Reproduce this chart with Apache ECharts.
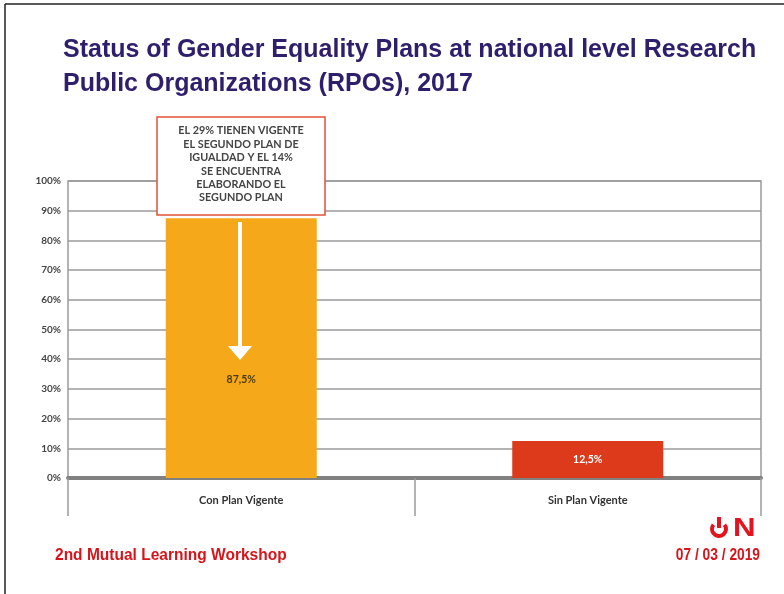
<!DOCTYPE html>
<html>
<head>
<meta charset="utf-8">
<script src="https://cdn.jsdelivr.net/npm/echarts@6/dist/echarts.min.js"></script>
<style>
html,body{margin:0;padding:0;background:#fff;}
#chart{width:784px;height:594px;}
</style>
</head>
<body>
<div id="chart"></div>
<script>
var categories = ['Con Plan Vigente', 'Sin Plan Vigente'];
var values = [87.5, 12.5];
var barColors = ['#F5A91A', '#DC3A1A'];
var labelColors = ['#4E3A12', '#FFFFFF'];
var titleLines = ['Status of Gender Equality Plans at national level Research', 'Public Organizations (RPOs), 2017'];
var noteLines = ['EL 29% TIENEN VIGENTE', 'EL SEGUNDO PLAN DE', 'IGUALDAD Y EL 14%', 'SE ENCUENTRA', 'ELABORANDO EL', 'SEGUNDO PLAN'];
var footerLeft = '2nd Mutual Learning Workshop';
var footerDate = '07 / 03 / 2019';

var chart = echarts.init(document.getElementById('chart'), null, {renderer: 'canvas'});

var noteTexts = noteLines.map(function (t, i) {
  return {
    type: 'text', z: 20,
    style: {text: t, x: 241, y: 131 + i * 13.4, textAlign: 'center', textVerticalAlign: 'middle',
      font: 'bold 10.8px Lato, "Open Sans", sans-serif', fill: '#444444'}
  };
});

var option = {
  backgroundColor: '#ffffff',
  animation: false,
  grid: {left: 68, right: 23, top: 181, bottom: 116, show: true, borderColor: '#9a9a9a', borderWidth: 1.5},
  xAxis: {
    type: 'category',
    data: categories,
    axisLine: {show: true, lineStyle: {color: '#808080', width: 4}},
    axisTick: {show: true, length: 38, lineStyle: {color: '#9a9a9a', width: 1.5}},
    axisLabel: {margin: 17, color: '#333333', fontSize: 11, fontFamily: 'Lato, "Open Sans", sans-serif', fontWeight: 'bold'}
  },
  yAxis: {
    type: 'value', min: 0, max: 100, interval: 10,
    axisLine: {show: false},
    axisTick: {show: false},
    splitLine: {show: true, lineStyle: {color: '#9a9a9a', width: 1.5}},
    axisLabel: {formatter: '{value}%', color: '#444444', fontSize: 10, margin: 7, fontFamily: 'Lato, "Open Sans", sans-serif', fontWeight: 'bold'}
  },
  series: [{
    type: 'bar',
    barWidth: 151,
    data: values.map(function (v, i) {
      return {
        value: v,
        itemStyle: {color: barColors[i]},
        label: {color: labelColors[i], offset: i === 0 ? [0, 32] : [0, 0]}
      };
    }),
    label: {
      show: true, position: 'inside', fontSize: 10.5, fontWeight: 'bold',
      fontFamily: 'Lato, "Open Sans", sans-serif',
      formatter: function (p) { return String(p.value).replace('.', ',') + '%'; }
    }
  }],
  graphic: [
    // frame
    {type: 'line', shape: {x1: 5, y1: 4, x2: 784, y2: 4}, style: {stroke: '#222', lineWidth: 1.5}},
    {type: 'line', shape: {x1: 5, y1: 4, x2: 5, y2: 594}, style: {stroke: '#222', lineWidth: 1.5}},
    // title
    {type: 'text', style: {text: titleLines[0], x: 63, y: 50, textVerticalAlign: 'middle', font: 'bold 25px "Liberation Sans", Arial, sans-serif', fill: '#2F1E6B'}},
    {type: 'text', style: {text: titleLines[1], x: 63, y: 84, textVerticalAlign: 'middle', font: 'bold 25px "Liberation Sans", Arial, sans-serif', fill: '#2F1E6B'}},
    // annotation box
    {type: 'rect', z: 15, shape: {x: 157, y: 117, width: 168, height: 98}, style: {fill: '#ffffff', stroke: '#E0523A', lineWidth: 1.5}},
    // arrow
    {type: 'line', z: 15, shape: {x1: 240, y1: 222, x2: 240, y2: 348}, style: {stroke: '#ffffff', lineWidth: 4}},
    {type: 'polygon', z: 15, shape: {points: [[228, 346], [252, 346], [240, 360]]}, style: {fill: '#ffffff'}},
    // footer
    {type: 'text', x: 55, y: 556, scaleX: 0.97, style: {text: footerLeft, x: 0, y: 0, textVerticalAlign: 'middle', font: 'bold 16px "Liberation Sans", Arial, sans-serif', fill: '#D7141A'}},
    {type: 'text', x: 760, y: 556, scaleX: 0.86, style: {text: footerDate, x: 0, y: 0, textAlign: 'right', textVerticalAlign: 'middle', font: 'bold 16px "Liberation Sans", Arial, sans-serif', fill: '#D7141A'}},
    // ON logo
    {type: 'arc', shape: {cx: 719, cy: 529, r: 7, startAngle: -Math.PI / 2 + 0.9, endAngle: -Math.PI / 2 - 0.9 + 2 * Math.PI}, style: {stroke: '#E3141E', lineWidth: 4, fill: null}},
    {type: 'line', shape: {x1: 719, y1: 517, x2: 719, y2: 528}, style: {stroke: '#E3141E', lineWidth: 4}},
    {type: 'text', x: 733, y: 529, scaleX: 1.25, style: {text: 'N', x: 0, y: 0, textVerticalAlign: 'middle', font: 'bold 25px "Liberation Sans", Arial, sans-serif', fill: '#E3141E'}}
  ].concat(noteTexts)
};
chart.setOption(option);
</script>
</body>
</html>
